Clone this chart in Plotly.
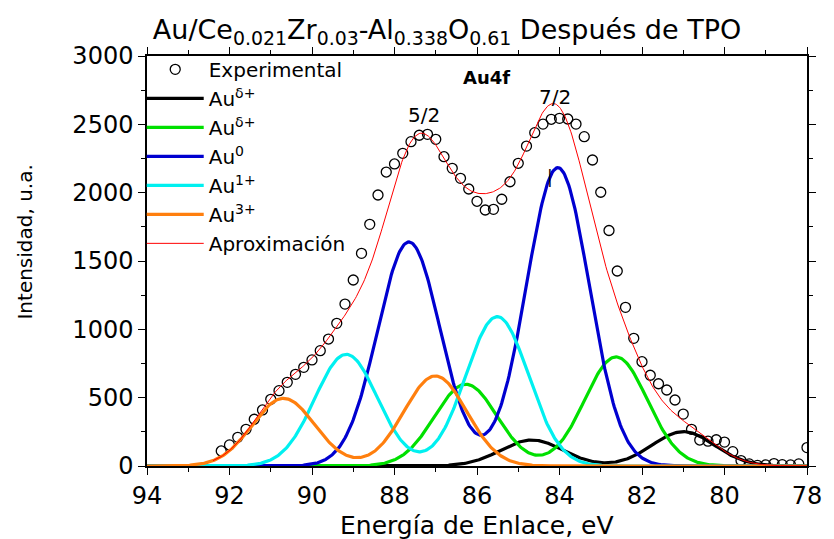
import numpy as np
import plotly.graph_objects as go

# ---------------- data ----------------
exp_energy = [92.2, 92.0, 91.8, 91.6, 91.4, 91.2, 91.0, 90.8, 90.6, 90.4, 90.2, 90.0,
              89.8, 89.6, 89.4, 89.2, 89.0, 88.8, 88.6, 88.4, 88.2, 88.0, 87.8, 87.6,
              87.4, 87.2, 87.0, 86.8, 86.6, 86.4, 86.2, 86.0, 85.8, 85.6, 85.4, 85.2,
              85.0, 84.8, 84.6, 84.4, 84.2, 84.0, 83.8, 83.6, 83.4, 83.2, 83.0, 82.8,
              82.6, 82.4, 82.2, 82.0, 81.8, 81.6, 81.4, 81.2, 81.0, 80.8, 80.6, 80.4,
              80.2, 80.0, 79.8, 79.6, 79.4, 79.2, 79.0, 78.8, 78.6, 78.4, 78.2, 78.0]
exp_intensity = [110, 154, 210, 268, 342, 410, 488, 551, 612, 671, 722, 776,
                 844, 929, 1044, 1185, 1361, 1556, 1768, 1983, 2151, 2210, 2288, 2373,
                 2420, 2427, 2390, 2263, 2178, 2105, 2027, 1937, 1873, 1878, 1952, 2080,
                 2215, 2341, 2439, 2502, 2537, 2544, 2539, 2502, 2410, 2239, 2003, 1723,
                 1427, 1161, 934, 763, 664, 602, 556, 483, 380, 268, 190, 182,
                 192, 175, 105, 40, 15, 5, 8, 18, 10, 8, 15, 135]

# fitted components: (4f5/2, 4f7/2) centres [eV] and heights
comp_names = ["Au<sup>δ+</sup>", "Au<sup>δ+</sup>", "Au<sup>0</sup>", "Au<sup>1+</sup>", "Au<sup>3+</sup>"]
comp_colors = ["#000000", "#00e000", "#0000d0", "#00f0f0", "#ff7f0e"]
comp_centers = [[84.67, 81.00], [86.27, 82.63], [87.65, 84.04], [89.17, 85.51], [90.69, 87.01]]
comp_heights = [[190, 251], [598, 798], [1639, 2183], [817, 1093], [495, 659]]
comp_sigma = [0.76, 0.76, 0.76, 0.76, 0.76]

x_ticks = [94, 92, 90, 88, 86, 84, 82, 80, 78]
y_ticks = [0, 500, 1000, 1500, 2000, 2500, 3000]

FONT = "DejaVu Sans"

grid = np.linspace(94, 78, 641)
fig = go.Figure()

fig.add_trace(go.Scatter(x=exp_energy, y=exp_intensity, mode="markers", name="Experimental",
                         marker=dict(symbol="circle-open", size=10, color="black",
                                     line=dict(width=1.3, color="black"))))

total = np.zeros_like(grid)
for name, col, cen, hts, sg in zip(comp_names, comp_colors, comp_centers, comp_heights, comp_sigma):
    y = np.zeros_like(grid)
    for c, h in zip(cen, hts):
        y += h * np.exp(-((grid - c) ** 2) / (2 * sg ** 2))
    total += y
    fig.add_trace(go.Scatter(x=grid, y=y, mode="lines", name=name,
                             line=dict(color=col, width=3.2)))

mask = grid <= 92.4
fig.add_trace(go.Scatter(x=grid[mask], y=total[mask], mode="lines", name="Aproximación",
                         line=dict(color="#ff0000", width=1)))

axis_common = dict(showline=True, linecolor="black", linewidth=1.5, mirror="ticks",
                   ticks="outside", ticklen=7, tickwidth=1.3, tickcolor="black",
                   showgrid=False, zeroline=False,
                   tickfont=dict(family=FONT, size=24, color="black"))

fig.update_xaxes(range=[94, 78], tickvals=x_ticks, ticktext=[str(v) for v in x_ticks],
                 minor=dict(dtick=1, ticks="outside", ticklen=4, tickcolor="black", tickwidth=1.2),
                 **axis_common)
fig.update_yaxes(range=[0, 3000], tickvals=y_ticks, ticktext=[str(v) for v in y_ticks],
                 minor=dict(dtick=250, ticks="outside", ticklen=4, tickcolor="black", tickwidth=1.2),
                 **axis_common)

annots = [
    dict(x=87.29, y=2568, text="5/2", font=dict(family=FONT, size=20, color="black")),
    dict(x=84.12, y=2700, text="7/2", font=dict(family=FONT, size=20, color="black")),
    dict(x=85.76, y=2846, text="<b>Au4f</b>", font=dict(family=FONT, size=18, color="black")),
    dict(x=84.22, y=2115, text="|", font=dict(family=FONT, size=17, color="black")),
]
for a in annots:
    a.update(xref="x", yref="y", showarrow=False, xanchor="center", yanchor="middle")

annots.append(dict(x=0.5, y=(466 - 525) / 410, xref="paper", yref="paper", showarrow=False,
                   text="Energía de Enlace, eV", xanchor="center", yanchor="middle",
                   font=dict(family=FONT, size=25, color="black")))
annots.append(dict(x=(22 - 146.5) / 671, y=(466 - 242) / 410, xref="paper", yref="paper",
                   showarrow=False, text="Intensidad, u.a.", textangle=-90,
                   xanchor="center", yanchor="middle",
                   font=dict(family=FONT, size=20, color="black")))

fig.update_layout(
    width=834, height=539,
    margin=dict(l=146.5, r=16.5, t=56, b=73),
    paper_bgcolor="white", plot_bgcolor="white",
    title=dict(text="Au/Ce<sub>0.021</sub>Zr<sub>0.03</sub>-Al<sub>0.338</sub>O<sub>0.61</sub> Después de TPO",
               x=447 / 834, xanchor="center", y=1 - 30 / 539, yanchor="middle",
               xref="container", yref="container",
               font=dict(family=FONT, size=27, color="black")),
    legend=dict(x=-0.008, y=1.015, xanchor="left", yanchor="top", bgcolor="rgba(0,0,0,0)",
                itemwidth=57,
                font=dict(family=FONT, size=20, color="black"), tracegroupgap=0),
    annotations=annots,
)

fig.write_html("out.html",
               config={"displayModeBar": False},
               post_script="document.body.style.margin='0';"
                           "document.documentElement.style.overflow='hidden';"
                           "document.body.style.overflow='hidden';")
